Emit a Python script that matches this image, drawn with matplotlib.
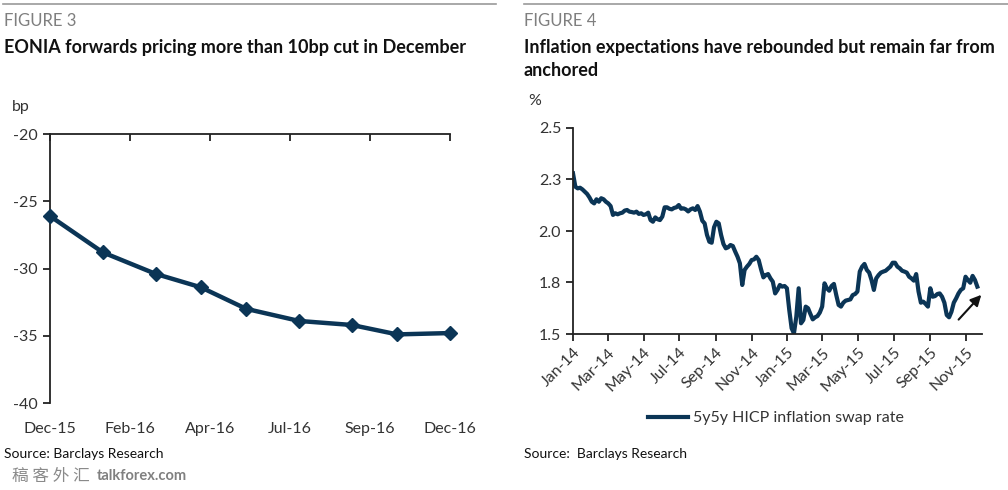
import matplotlib
matplotlib.use("Agg")
import matplotlib.pyplot as plt
import matplotlib.dates as mdates
from matplotlib.lines import Line2D
import pandas as pd
import numpy as np

plt.rcParams['font.family'] = ['Lato', 'DejaVu Sans']

# ---------------- Figure 3 data ----------------
eonia_dates = ['2015-12-03', '2016-01-21', '2016-03-10', '2016-04-21', '2016-06-02',
               '2016-07-21', '2016-09-08', '2016-10-20', '2016-12-08']
eonia_values = [-26.1, -28.8, -30.4, -31.4, -33.0, -33.9, -34.2, -34.9, -34.8]
eonia_ticklabels = ['Dec-15', 'Feb-16', 'Apr-16', 'Jul-16', 'Sep-16', 'Dec-16']
eonia_yticks = [-20, -25, -30, -35, -40]

# ---------------- Figure 4 data ----------------
swap_start = '2014-01-01'
swap_step_days = 4
swap_values = [
    2.280, 2.215, 2.207, 2.210, 2.202, 2.191, 2.180, 2.163, 2.142, 2.134,
    2.154, 2.142, 2.159, 2.154, 2.142, 2.134, 2.121, 2.078, 2.086, 2.081,
    2.086, 2.089, 2.099, 2.102, 2.094, 2.092, 2.089, 2.094, 2.083, 2.086,
    2.078, 2.081, 2.089, 2.053, 2.045, 2.066, 2.057, 2.053, 2.070, 2.115,
    2.115, 2.108, 2.105, 2.112, 2.115, 2.126, 2.108, 2.110, 2.105, 2.095,
    2.105, 2.110, 2.102, 2.121, 2.094, 2.050, 2.037, 1.981, 1.948, 1.943,
    2.018, 2.045, 2.037, 1.981, 1.937, 1.916, 1.921, 1.932, 1.927, 1.900,
    1.875, 1.843, 1.738, 1.811, 1.827, 1.840, 1.859, 1.862, 1.875, 1.859,
    1.814, 1.775, 1.786, 1.791, 1.770, 1.754, 1.697, 1.714, 1.738, 1.730,
    1.733, 1.722, 1.617, 1.528, 1.503, 1.584, 1.722, 1.552, 1.568, 1.633,
    1.625, 1.597, 1.571, 1.581, 1.587, 1.604, 1.633, 1.746, 1.722, 1.710,
    1.733, 1.743, 1.689, 1.641, 1.633, 1.652, 1.662, 1.665, 1.668, 1.689,
    1.694, 1.706, 1.803, 1.827, 1.840, 1.811, 1.798, 1.762, 1.714, 1.770,
    1.786, 1.798, 1.803, 1.807, 1.817, 1.827, 1.846, 1.846, 1.827, 1.819,
    1.807, 1.803, 1.798, 1.778, 1.770, 1.759, 1.791, 1.706, 1.652, 1.657,
    1.646, 1.633, 1.722, 1.681, 1.684, 1.694, 1.697, 1.681, 1.652, 1.592,
    1.581, 1.608, 1.652, 1.673, 1.697, 1.714, 1.722, 1.778, 1.762, 1.749,
    1.782, 1.762, 1.730,
]
swap_ticks = ['2014-01-01', '2014-03-01', '2014-05-01', '2014-07-01', '2014-09-01',
              '2014-11-01', '2015-01-01', '2015-03-01', '2015-05-01', '2015-07-01',
              '2015-09-01', '2015-11-01']
swap_ticklabels = ['Jan-14', 'Mar-14', 'May-14', 'Jul-14', 'Sep-14', 'Nov-14',
                   'Jan-15', 'Mar-15', 'May-15', 'Jul-15', 'Sep-15', 'Nov-15']
swap_yticks = [1.5, 1.75, 2.0, 2.25, 2.5]
swap_yticklabels = ['1.5', '1.8', '2.0', '2.3', '2.5']
arrow_from = ('2015-10-16', 1.56)
arrow_to = ('2015-11-30', 1.70)

NAVY = '#0b3556'
TXT = '#333333'
GREY = '#7f7f7f'

fig = plt.figure(figsize=(10.08, 4.90), dpi=100)

W, H = 1008, 490
def fx(px):
    return px / W
def fy(py):
    return 1 - py / H

# top rules
fig.add_artist(Line2D([fx(3), fx(496)], [fy(4), fy(4)], color='#9a9a9a', lw=1.2))
fig.add_artist(Line2D([fx(524), fx(1008)], [fy(4), fy(4)], color='#9a9a9a', lw=1.2))

# headings
fig.text(fx(4), fy(21), 'FIGURE 3', fontsize=12, color=GREY, va='center', ha='left')
fig.text(fx(4), fy(47), 'EONIA forwards pricing more than 10bp cut in December',
         fontsize=13, fontweight='bold', color='#111111', va='center', ha='left')
fig.text(fx(524), fy(21), 'FIGURE 4', fontsize=12, color=GREY, va='center', ha='left')
fig.text(fx(524), fy(47), 'Inflation expectations have rebounded but remain far from',
         fontsize=13, fontweight='bold', color='#111111', va='center', ha='left')
fig.text(fx(524), fy(71), 'anchored',
         fontsize=13, fontweight='bold', color='#111111', va='center', ha='left')

# ---------------- Left chart ----------------
ax1 = fig.add_axes([fx(50), fy(403), fx(450) - fx(50), fy(134) - fy(403)])
d1 = pd.to_datetime(eonia_dates)
ax1.plot(d1, eonia_values, color=NAVY, lw=3.2, marker='D', ms=7, clip_on=False, zorder=3)
x0, x1 = mdates.date2num(d1[0]), mdates.date2num(d1[-1])
ax1.set_xlim(x0, x1)
ax1.set_ylim(-40, -20)
ax1.set_xticks(np.linspace(x0, x1, len(eonia_ticklabels)))
ax1.set_xticklabels(eonia_ticklabels)
ax1.set_yticks(eonia_yticks)
ax1.set_yticklabels([str(v) for v in eonia_yticks])
for s in ['bottom', 'right']:
    ax1.spines[s].set_visible(False)
for s in ['left', 'top']:
    ax1.spines[s].set_color('#222222')
    ax1.spines[s].set_linewidth(1.3)
ax1.tick_params(axis='x', bottom=False, top=True, labelbottom=True, labeltop=False,
                direction='in', length=5, width=1.3, color='#222222', pad=14,
                labelsize=11.5, labelcolor=TXT)
ax1.tick_params(axis='y', direction='out', length=5, width=1.3, color='#222222',
                pad=4, labelsize=11.5, labelcolor=TXT)
fig.text(fx(12), fy(107), 'bp', fontsize=11.5, color=TXT, va='center', ha='left')
fig.text(fx(4), fy(454), 'Source: Barclays Research', fontsize=10, color='#111111',
         va='center', ha='left')

# ---------------- Right chart ----------------
ax2 = fig.add_axes([fx(573), fy(334), fx(982) - fx(573), fy(128) - fy(334)])
d2 = pd.date_range(swap_start, periods=len(swap_values), freq=f'{swap_step_days}D')
ax2.plot(d2, swap_values, color=NAVY, lw=3.0, solid_joinstyle='round',
         label='5y5y HICP inflation swap rate')
ax2.set_xlim(pd.Timestamp('2014-01-01'), pd.Timestamp('2015-11-28'))
ax2.set_ylim(1.5, 2.5)
ax2.set_yticks(swap_yticks)
ax2.set_yticklabels(swap_yticklabels)
ax2.set_xticks(pd.to_datetime(swap_ticks))
ax2.set_xticklabels(swap_ticklabels, rotation=45, ha='right', va='top',
                    rotation_mode='anchor')
for s in ['top', 'right']:
    ax2.spines[s].set_visible(False)
for s in ['left', 'bottom']:
    ax2.spines[s].set_color('#222222')
    ax2.spines[s].set_linewidth(1.3)
ax2.tick_params(axis='both', direction='out', length=5, width=1.3, color='#222222',
                labelsize=11.5, labelcolor=TXT)
ax2.tick_params(axis='x', pad=3)
ax2.annotate('', xy=(pd.Timestamp(arrow_to[0]), arrow_to[1]),
             xytext=(pd.Timestamp(arrow_from[0]), arrow_from[1]),
             arrowprops=dict(arrowstyle='-|>', color='#111111', lw=1.5,
                             mutation_scale=16), annotation_clip=False)
ax2.legend(loc='center', bbox_to_anchor=(fx(776), fy(418)), bbox_transform=fig.transFigure,
           frameon=False, fontsize=11.5, handlelength=2.5, handletextpad=0.3,
           labelcolor=TXT)
fig.text(fx(528), fy(101), '%', fontsize=11.5, color=TXT, va='center', ha='left')
fig.text(fx(524), fy(454), 'Source:  Barclays Research', fontsize=10, color='#111111',
         va='center', ha='left')

# watermark
fig.text(fx(12), fy(476), '稿 客 外 汇', fontsize=12, color='#8a8a8a', va='center', ha='left',
         family=['Noto Sans CJK SC', 'DejaVu Sans'])
fig.text(fx(97), fy(476), 'talkforex.com', fontsize=10.5, fontweight='bold', color='#808080',
         va='center', ha='left', family=['Lato', 'DejaVu Sans'])

fig.savefig('out.png', dpi=100)
